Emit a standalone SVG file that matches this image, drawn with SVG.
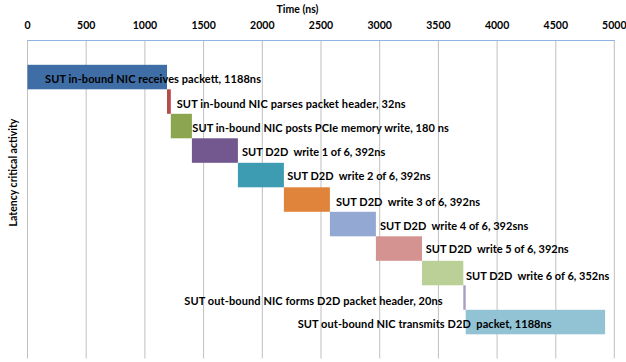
<svg xmlns="http://www.w3.org/2000/svg" width="626" height="362" viewBox="0 0 626 362">
<style>
.t{font-family:Lato,"Liberation Sans",sans-serif;font-weight:bold;font-size:11px;fill:#000}
.tick{font-family:Lato,"Liberation Sans",sans-serif;font-weight:bold;font-size:10.5px;fill:#000;text-anchor:middle}
.grid{stroke:#BFBFBF;stroke-width:1}
</style>
<rect width="626" height="362" fill="#fff"/>
<g id="axes">
<text class="tick" x="297.5" y="12.5">Time (ns)</text>
<text class="tick" x="27.5" y="28.5">0</text>
<text class="tick" x="86.2" y="28.5">500</text>
<text class="tick" x="144.9" y="28.5">1000</text>
<text class="tick" x="203.6" y="28.5">1500</text>
<text class="tick" x="262.3" y="28.5">2000</text>
<text class="tick" x="321" y="28.5">2500</text>
<text class="tick" x="379.7" y="28.5">3000</text>
<text class="tick" x="438.4" y="28.5">3500</text>
<text class="tick" x="497.1" y="28.5">4000</text>
<text class="tick" x="555.8" y="28.5">4500</text>
<text class="tick" x="614.3" y="28.5">5000</text>
<g class="grid">
<line x1="27.5" y1="40" x2="27.5" y2="358.5"/>
<line x1="86.2" y1="40" x2="86.2" y2="358.5"/>
<line x1="144.9" y1="40" x2="144.9" y2="358.5"/>
<line x1="203.6" y1="40" x2="203.6" y2="358.5"/>
<line x1="262.3" y1="40" x2="262.3" y2="358.5"/>
<line x1="321" y1="40" x2="321" y2="358.5"/>
<line x1="379.7" y1="40" x2="379.7" y2="358.5"/>
<line x1="438.4" y1="40" x2="438.4" y2="358.5"/>
<line x1="497.1" y1="40" x2="497.1" y2="358.5"/>
<line x1="555.8" y1="40" x2="555.8" y2="358.5"/>
<line x1="614.3" y1="40" x2="614.3" y2="358.5"/>
</g>
<line x1="27.5" y1="40.5" x2="614.8" y2="40.5" stroke="#8EB4E3" stroke-width="1"/>
<text class="tick" transform="translate(16.8,172.5) rotate(-90)" x="0" y="0">Latency critical activity</text>
</g>
<g id="connectors"></g>
<g id="n1"><rect x="27.5" y="64.8" width="139.5" height="24.5" fill="#3F6DA6"/><text class="t" x="45" y="82.5" textLength="216">SUT in-bound NIC receives packett, 1188ns</text></g>
<g id="n2"><rect x="167" y="89.3" width="3.8" height="24.5" fill="#B84A48"/><text class="t" x="176.7" y="108" textLength="229">SUT in-bound NIC parses packet header, 32ns</text></g>
<g id="n3"><rect x="170.8" y="113.8" width="21.1" height="24.5" fill="#8BA64F"/><text class="t" x="192.3" y="132" textLength="256.5">SUT in-bound NIC posts PCIe memory write, 180 ns</text></g>
<g id="n4"><rect x="191.9" y="138.3" width="46" height="24.5" fill="#72588F"/><text class="t" x="242" y="155.5" textLength="143.3" xml:space="preserve">SUT D2D  write 1 of 6, 392ns</text></g>
<g id="n5"><rect x="237.9" y="162.8" width="46" height="24.5" fill="#3E9CB2"/><text class="t" x="287.3" y="180" textLength="143.4" xml:space="preserve">SUT D2D  write 2 of 6, 392ns</text></g>
<g id="n6"><rect x="283.9" y="187.3" width="46" height="24.5" fill="#E0843C"/><text class="t" x="336" y="206" textLength="144" xml:space="preserve">SUT D2D  write 3 of 6, 392ns</text></g>
<g id="n7"><rect x="329.9" y="211.8" width="46" height="24.5" fill="#93A9D3"/><text class="t" x="380" y="229.5" textLength="148.3" xml:space="preserve">SUT D2D  write 4 of 6, 392sns</text></g>
<g id="n8"><rect x="375.9" y="236.3" width="46.1" height="24.5" fill="#D49391"/><text class="t" x="425.7" y="253" textLength="143" xml:space="preserve">SUT D2D  write 5 of 6, 392ns</text></g>
<g id="n9"><rect x="422" y="260.8" width="41.3" height="24.5" fill="#BBD097"/><text class="t" x="466" y="279.5" textLength="143.3" xml:space="preserve">SUT D2D  write 6 of 6, 352ns</text></g>
<g id="n10"><rect x="463.3" y="285.3" width="2.4" height="24.5" fill="#AB9CC4"/><text class="t" x="184.3" y="304.5" textLength="258.4">SUT out-bound NIC forms D2D packet header, 20ns</text></g>
<g id="n11"><rect x="465.7" y="309.8" width="139.4" height="24.5" fill="#92C3D5"/><text class="t" x="297.7" y="328" textLength="254" xml:space="preserve">SUT out-bound NIC transmits D2D  packet, 1188ns</text></g>
</svg>
